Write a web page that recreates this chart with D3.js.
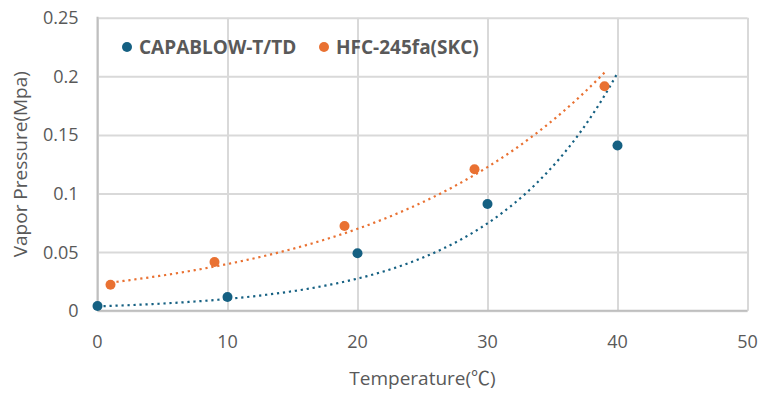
<!DOCTYPE html>
<html lang="en">
	<head>
		<meta charset="utf-8">
		<title>Vapor pressure vs temperature</title>
		<script type="text/javascript" src="https://cdn.jsdelivr.net/npm/d3@7/dist/d3.min.js"></script>
		<style type="text/css">
			body { margin: 0; background: #fff; }
			text { font-family: "Open Sans", "Noto Sans CJK KR", sans-serif; fill: #595959; }
		</style>
	</head>
	<body>
		<script type="text/javascript">

			// Data
			var seriesNames = ["CAPABLOW-T/TD", "HFC-245fa(SKC)"];
			var seriesColors = ["#156082", "#E97132"];
			var capablowTemp = [0, 10, 20, 30, 40];
			var capablowPress = [0.004, 0.0117, 0.049, 0.091, 0.141];
			var hfcTemp = [1, 9, 19, 29, 39];
			var hfcPress = [0.0221, 0.0415, 0.0723, 0.1207, 0.1915];

			// exponential trendlines y = a * e^(b x), coefficients
			var trendA = [0.0037, 0.0227];
			var trendB = [0.1001, 0.0562];

			var xTicks = [0, 10, 20, 30, 40, 50];
			var yTicks = [0, 0.05, 0.1, 0.15, 0.2, 0.25];
			var yTickLabels = ["0", "0.05", "0.1", "0.15", "0.2", "0.25"];

			//Width and height
			var w = 775;
			var h = 396;
			var plotLeft = 97.5, plotRight = 747.5, plotTop = 17.7, plotBottom = 310.7;

			var xScale = d3.scaleLinear().domain([0, 50]).range([plotLeft, plotRight]);
			var yScale = d3.scaleLinear().domain([0, 0.25]).range([plotBottom, plotTop]);

			var svg = d3.select("body")
						.append("svg")
						.attr("width", w)
						.attr("height", h);

			//Gridlines
			svg.append("g")
			   .attr("transform", "translate(0," + plotBottom + ")")
			   .call(d3.axisBottom(xScale).tickValues(xTicks).tickSize(-(plotBottom - plotTop)).tickFormat(""))
			   .call(function(g) {
			   		g.select(".domain").remove();
			   		g.selectAll("line").attr("stroke", "#d9d9d9").attr("stroke-width", 2);
			   });

			svg.append("g")
			   .attr("transform", "translate(" + plotLeft + ",0)")
			   .call(d3.axisLeft(yScale).tickValues(yTicks).tickSize(-(plotRight - plotLeft)).tickFormat(""))
			   .call(function(g) {
			   		g.select(".domain").remove();
			   		g.selectAll("line").attr("stroke", "#d9d9d9").attr("stroke-width", 2);
			   });

			//Axis lines
			svg.append("line")
			   .attr("x1", plotLeft).attr("x2", plotRight)
			   .attr("y1", plotBottom).attr("y2", plotBottom)
			   .attr("stroke", "#bfbfbf").attr("stroke-width", 2);
			svg.append("line")
			   .attr("x1", plotLeft).attr("x2", plotLeft)
			   .attr("y1", plotTop - 1).attr("y2", plotBottom)
			   .attr("stroke", "#bfbfbf").attr("stroke-width", 2);

			//Tick labels
			svg.selectAll("text.xtick")
			   .data(xTicks)
			   .enter()
			   .append("text")
			   .attr("class", "xtick")
			   .attr("x", function(d) { return xScale(d); })
			   .attr("y", plotBottom + 37)
			   .attr("text-anchor", "middle")
			   .attr("font-size", "18px")
			   .text(function(d) { return d; });

			svg.selectAll("text.ytick")
			   .data(yTicks)
			   .enter()
			   .append("text")
			   .attr("class", "ytick")
			   .attr("x", plotLeft - 19)
			   .attr("y", function(d) { return yScale(d) + 6.5; })
			   .attr("text-anchor", "end")
			   .attr("font-size", "18px")
			   .text(function(d, i) { return yTickLabels[i]; });

			//Axis titles
			svg.append("text")
			   .attr("x", (plotLeft + plotRight) / 2)
			   .attr("y", 385)
			   .attr("text-anchor", "middle")
			   .attr("font-size", "19px")
			   .text("Temperature(℃)");

			svg.append("text")
			   .attr("transform", "translate(27," + ((plotTop + plotBottom) / 2) + ") rotate(-90)")
			   .attr("text-anchor", "middle")
			   .attr("font-size", "19px")
			   .text("Vapor Pressure(Mpa)");

			var series = [
				{ x: capablowTemp, y: capablowPress },
				{ x: hfcTemp, y: hfcPress }
			];

			//Trendlines (dotted)
			var line = d3.line()
						.x(function(d) { return xScale(d[0]); })
						.y(function(d) { return yScale(d[1]); });

			series.forEach(function(s, i) {
				var x0 = d3.min(s.x), x1 = d3.max(s.x);
				var pts = d3.range(x0, x1 + 0.001, 0.25).map(function(t) {
					return [t, trendA[i] * Math.exp(trendB[i] * t)];
				});
				svg.append("path")
				   .datum(pts)
				   .attr("d", line)
				   .attr("fill", "none")
				   .attr("stroke", seriesColors[i])
				   .attr("stroke-width", 2.2)
				   .attr("stroke-dasharray", "2.2 3.8");
			});

			//Points
			series.forEach(function(s, i) {
				svg.selectAll("circle.s" + i)
				   .data(s.x)
				   .enter()
				   .append("circle")
				   .attr("class", "s" + i)
				   .attr("cx", function(d) { return xScale(d); })
				   .attr("cy", function(d, j) { return yScale(s.y[j]); })
				   .attr("r", 5)
				   .attr("fill", seriesColors[i]);
			});

			//Legend
			var legendX = [127, 324];
			var legend = svg.selectAll("g.legend")
			   .data(seriesNames)
			   .enter()
			   .append("g")
			   .attr("class", "legend")
			   .attr("transform", function(d, i) { return "translate(" + legendX[i] + ",47)"; });

			legend.append("circle")
			   .attr("r", 5)
			   .attr("fill", function(d, i) { return seriesColors[i]; });

			legend.append("text")
			   .attr("x", 12)
			   .attr("y", 7)
			   .attr("font-size", "19px")
			   .attr("font-weight", "bold")
			   .text(function(d) { return d; });

		</script>
	</body>
</html>
